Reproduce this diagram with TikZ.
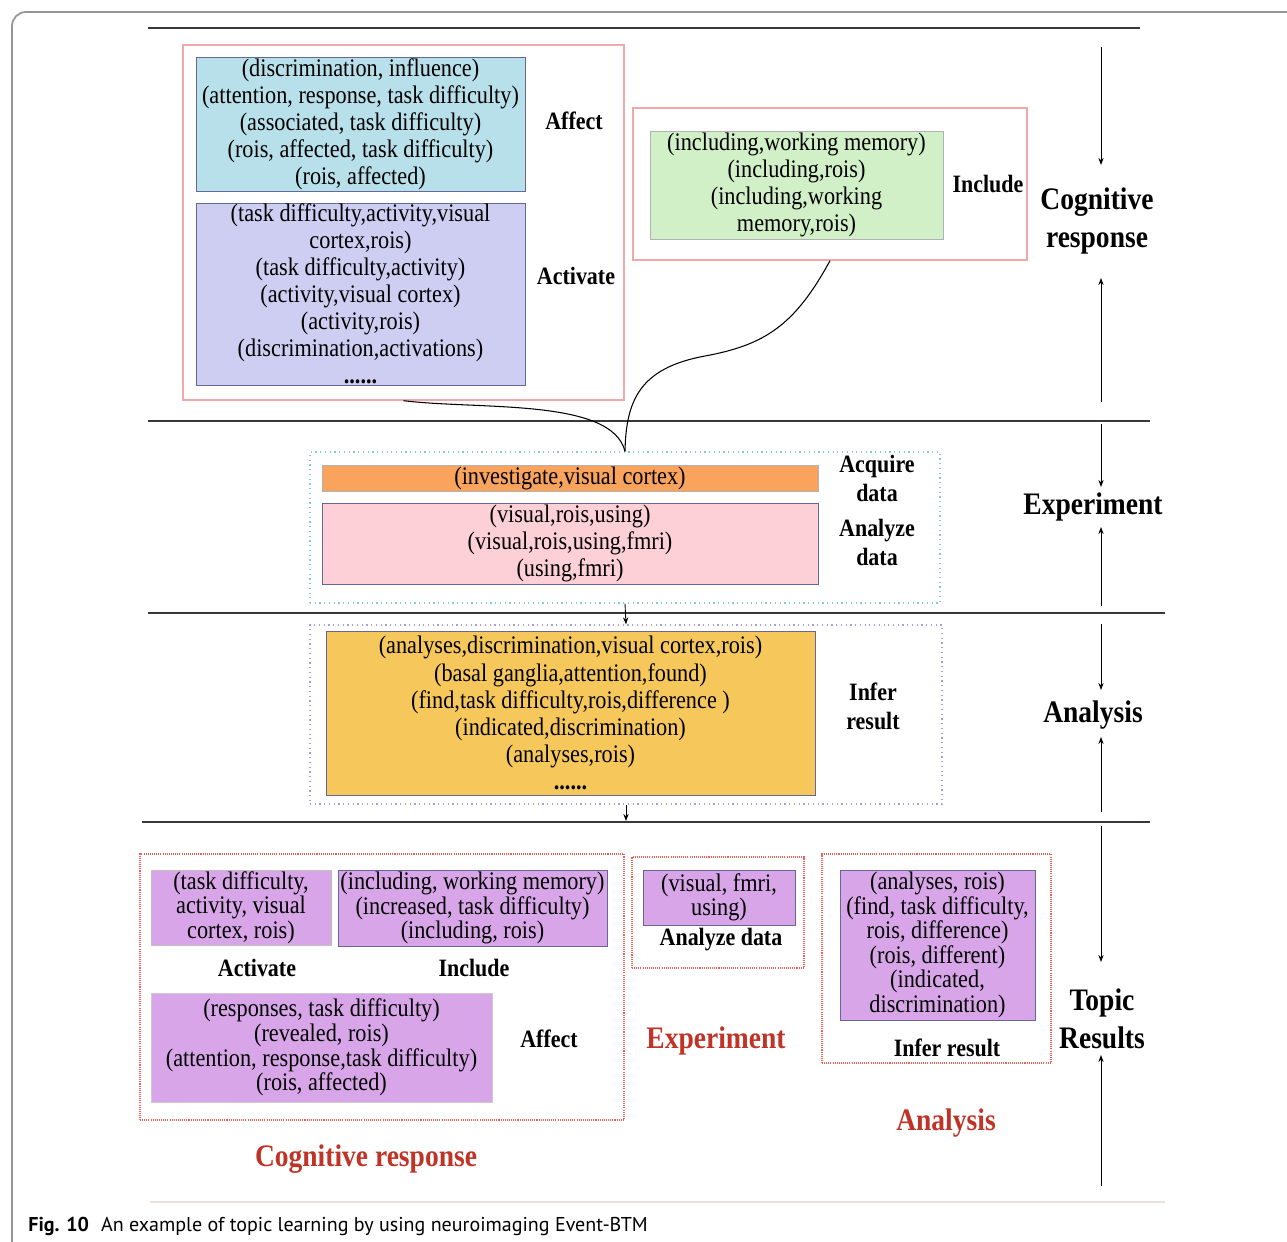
\documentclass[tikz,border=0pt]{standalone}
\usepackage{fontspec}
\setmainfont{Liberation Serif}[FakeStretch=0.88]
\newfontfamily\capfont{PT Sans}
\usetikzlibrary{arrows.meta}
\definecolor{cyanbox}{RGB}{184,224,234}
\definecolor{lavbox}{RGB}{206,206,242}
\definecolor{greenbox}{RGB}{210,240,200}
\definecolor{orangebox}{RGB}{250,163,92}
\definecolor{pinkbox}{RGB}{252,208,214}
\definecolor{yellowbox}{RGB}{246,200,92}
\definecolor{purplebox}{RGB}{216,166,232}
\definecolor{lightred}{RGB}{240,168,168}
\definecolor{dotred}{RGB}{232,100,90}
\definecolor{redtext}{RGB}{192,52,40}
\definecolor{dotcyan}{RGB}{130,200,228}
\definecolor{dotblue}{RGB}{160,160,225}
\definecolor{framegray}{RGB}{150,150,150}
\definecolor{rulegray}{RGB}{60,55,55}
\begin{document}
\begin{tikzpicture}[x=0.2mm,y=-0.2mm,
  box/.style={draw=gray!80!blue, line width=0.5pt, align=center, inner sep=0pt,
    font=\fontsize{14.4}{15.4}\selectfont},
  sbox/.style={box, font=\fontsize{14.4}{14}\selectfont},
  redframe/.style={draw=lightred, line width=0.8pt, inner sep=0pt},
  dotframe/.style={draw=dotred, line width=1.3pt, dash pattern=on 0.6pt off 0.6pt, inner sep=0pt},
  lbl/.style={font=\bfseries\fontsize{14.2}{16.5}\selectfont, align=center, inner sep=0pt},
  biglbl/.style={font=\bfseries\fontsize{17.8}{21.6}\selectfont, align=center, inner sep=0pt},
  redlbl/.style={biglbl, text=redtext},
  rule/.style={draw=rulegray, line width=1.6pt},
  side/.style={draw=black, line width=0.5pt, -{Stealth[length=4pt,width=3pt]}},
  link/.style={draw=black, line width=0.6pt}
]
\useasboundingbox (0,0) rectangle (1287,1242);
\begin{scope}
\clip (0,0) rectangle (1287,1242);
\draw[framegray, line width=1pt, rounded corners=8pt] (12,12) rectangle (1330,1290);
\end{scope}

% horizontal rules
\draw[rule] (148,28) -- (1140,28);
\draw[rule] (148,421) -- (1150,421);
\draw[rule] (148,613) -- (1165,613);
\draw[rule] (142,822) -- (1150,822);
\draw[draw={rgb,255:red,235;green,225;blue,222}, line width=1pt] (150,1202) -- (1165,1202);

% ---------- Cognitive response section ----------
\node[redframe, minimum width=88.2mm, minimum height=71mm] (redA) at (403.5,222.5) {};
\node[box, fill=cyanbox, minimum width=65.8mm, minimum height=26.8mm] (affectbox) at (360.5,124)
  {(discrimination, influence)\\(attention, response, task difficulty)\\(associated, task difficulty)\\(rois, affected, task difficulty)\\(rois, affected)};
\node[box, fill=lavbox, minimum width=65.8mm, minimum height=36.4mm] (activatebox) at (360.5,294)
  {(task difficulty,activity,visual\\cortex,rois)\\(task difficulty,activity)\\(activity,visual cortex)\\(activity,rois)\\(discrimination,activations)\\\textbf{......}};
\node[lbl] (affectlbl) at (574,121) {Affect};
\node[lbl] (activatelbl) at (576,276) {Activate};

\node[redframe, minimum width=78.8mm, minimum height=30.4mm] (redB) at (830,184) {};
\node[box, fill=greenbox, draw=gray!60, minimum width=58.6mm, minimum height=21.6mm] (includebox) at (796.5,185)
  {(including,working memory)\\(including,rois)\\(including,working\\memory,rois)};
\node[lbl] (includelbl) at (988,184) {Include};

\node[biglbl] (cogR) at (1097,221) {Cognitive\\response};

% ---------- Experiment section ----------
\node[draw=dotcyan, line width=0.7pt, dotted, inner sep=0pt, minimum width=126mm, minimum height=30.2mm] (expframe) at (625,527.5) {};
\node[box, fill=orangebox, draw=gray!60, minimum width=99.2mm, minimum height=5.2mm] (acqbox) at (570,478) {(investigate,visual cortex)};
\node[box, fill=pinkbox, minimum width=99.2mm, minimum height=16.2mm] (anabox) at (570,543.5)
  {(visual,rois,using)\\(visual,rois,using,fmri)\\(using,fmri)};
\node[lbl] (acqlbl) at (877,478) {Acquire\\data};
\node[lbl] (analbl) at (877,542) {Analyze\\data};
\node[biglbl] (expR) at (1093,507) {Experiment};

% ---------- Analysis section ----------
\node[draw=dotblue, line width=0.7pt, dotted, inner sep=0pt, minimum width=126.4mm, minimum height=35.8mm] (anaframe) at (626,714.5) {};
\node[box, fill=yellowbox, minimum width=97.8mm, minimum height=32.8mm] (inferbox) at (570.5,713)
  {(analyses,discrimination,visual cortex,rois)\\(basal ganglia,attention,found)\\(find,task difficulty,rois,difference )\\(indicated,discrimination)\\(analyses,rois)\\\textbf{......}};
\node[lbl] (inferlbl) at (873,706) {Infer\\result};
\node[biglbl] (anaR) at (1093,715) {Analysis};

% ---------- Topic results section ----------
\node[dotframe, minimum width=96.8mm, minimum height=53.2mm] (redC) at (382,987) {};
\node[sbox, fill=purplebox, draw=gray!50, minimum width=36mm, minimum height=15mm] (tact) at (241,907.5)
  {(task difficulty,\\activity, visual\\cortex, rois)};
\node[sbox, fill=purplebox, minimum width=53.8mm, minimum height=15.2mm] (tinc) at (472.5,908)
  {(including, working memory)\\(increased, task difficulty)\\(including, rois)};
\node[lbl] (tactlbl) at (257,968) {Activate};
\node[lbl] (tinclbl) at (474,968) {Include};
\node[sbox, fill=purplebox, draw=gray!40, minimum width=68.2mm, minimum height=21.8mm] (taff) at (321.5,1047.5)
  {(responses, task difficulty)\\(revealed, rois)\\(attention, response,task difficulty)\\(rois, affected)};
\node[lbl] (tafflbl) at (549,1039) {Affect};
\node[redlbl] (tcog) at (366,1159) {Cognitive response};

\node[dotframe, minimum width=34.4mm, minimum height=22.2mm] (redD) at (718,912.5) {};
\node[sbox, fill=purplebox, minimum width=30.4mm, minimum height=11mm] (tana) at (719,897.5)
  {(visual, fmri,\\using)};
\node[lbl] (tanalbl) at (721,940) {Analyze data};
\node[redlbl] (texp) at (716,1041) {Experiment};

\node[dotframe, minimum width=45.8mm, minimum height=41.8mm] (redE) at (936.5,958.5) {};
\node[sbox, fill=purplebox, minimum width=39mm, minimum height=30mm] (tinf) at (937.5,945)
  {(analyses, rois)\\(find, task difficulty,\\rois, difference)\\(rois, different)\\(indicated,\\discrimination)};
\node[lbl] (tinflbl) at (947,1048) {Infer result};
\node[redlbl] (tanaR) at (946,1123) {Analysis};

\node[biglbl] (topR) at (1102,1019) {Topic\\Results};

% ---------- connectors ----------
\draw[link] (redA.south) .. controls (480,410) and (612,398) .. (expframe.north);
\draw[link] (redB.south) .. controls (795,325) and (765,345) .. (705,356)
  .. controls (640,368) and (626,400) .. (expframe.north);
\draw[side] (expframe.south) -- (anaframe.north);
\coordinate (rule4) at (626,821);
\draw[side] (anaframe.south) -- (rule4);

% side arrows
\coordinate (s1a) at (1101,47);  \coordinate (s1b) at (1101,165);
\coordinate (s2a) at (1101,402); \coordinate (s2b) at (1101,278);
\coordinate (s3a) at (1101,424); \coordinate (s3b) at (1101,487);
\coordinate (s4a) at (1101,606); \coordinate (s4b) at (1101,527);
\coordinate (s5a) at (1101,624); \coordinate (s5b) at (1101,690);
\coordinate (s6a) at (1101,812); \coordinate (s6b) at (1101,737);
\coordinate (s7a) at (1101,826); \coordinate (s7b) at (1101,962);
\coordinate (s8a) at (1101,1186); \coordinate (s8b) at (1101,1055);
\foreach \a/\b in {s1a/s1b,s2a/s2b,s3a/s3b,s4a/s4b,s5a/s5b,s6a/s6b,s7a/s7b,s8a/s8b}
  \draw[side] (\a) -- (\b);

% caption
\node[anchor=base west, inner sep=0pt, font=\capfont\fontsize{11.4}{13}\selectfont] (caption) at (28,1231)
  {\textbf{Fig. 10}\hspace{0.6em}An example of topic learning by using neuroimaging Event-BTM};
\end{tikzpicture}
\end{document}
